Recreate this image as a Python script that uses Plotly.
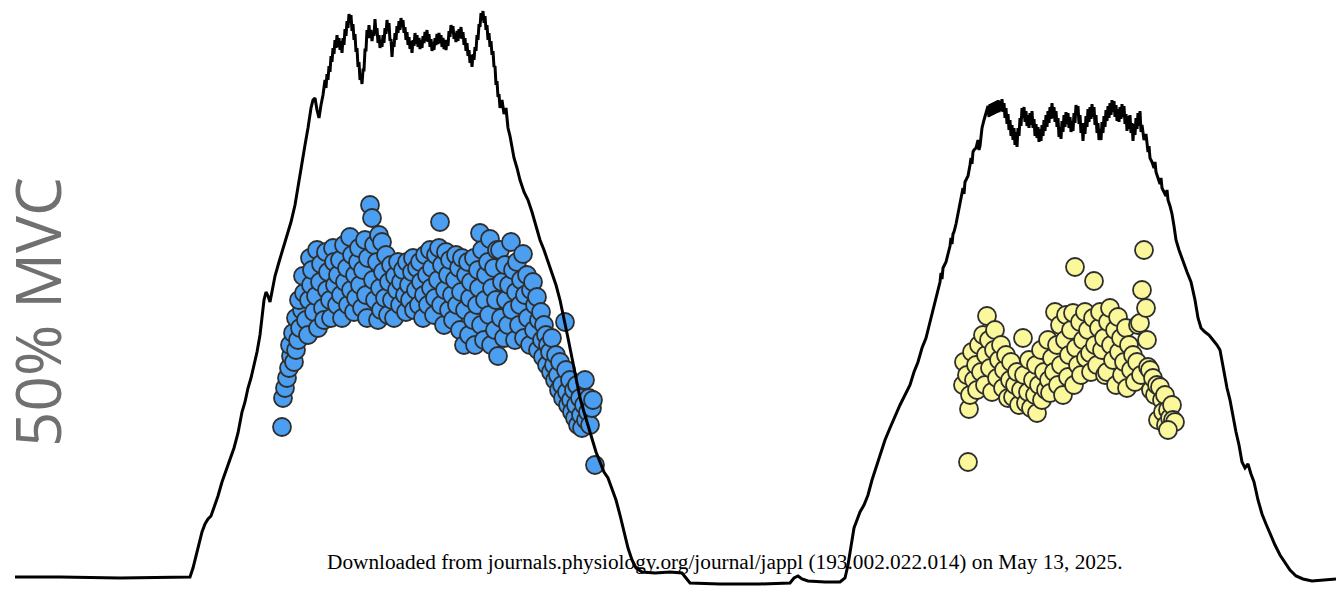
import plotly.graph_objects as go

# ---------------- Force trace (y axis drawn downward) ----------------
# first baseline and ramp-up: (time, force)
ramp1 = [(15, 577), (60, 577), (120, 578), (190, 577), (193, 568), (196, 555), (199, 544), (202, 532), (205, 524),
         (208, 519), (211, 516), (214, 508), (218, 496), (222, 482), (226, 470), (230, 460), (234, 448), (238, 433),
         (242, 412), (245, 402), (248, 388), (251, 378), (254, 365), (257, 352), (260, 335), (262, 318), (264, 300),
         (266, 292), (268, 296), (270, 302), (272, 290), (275, 276), (279, 262), (283, 248), (287, 236), (291, 222),
         (295, 205), (299, 180), (302, 160), (305, 145), (308, 128), (311, 108), (313, 100), (315, 98), (317, 110),
         (319, 118), (321, 105), (323, 95)]

# first plateau, sampled every time unit from t = 325
plateau1_start = 325
plateau1 = [80, 88, 74, 80, 66, 72, 56, 62, 48, 54,
            40, 48, 35, 47, 38, 50, 41, 53, 38, 45,
            29, 36, 21, 28, 14, 23, 15, 31, 24, 40,
            34, 52, 48, 67, 62, 80, 75, 84, 70, 70,
            50, 50, 30, 38, 25, 38, 30, 41, 32, 36,
            19, 34, 28, 43, 35, 48, 40, 47, 35, 43,
            28, 34, 20, 31, 23, 41, 39, 57, 42, 47,
            33, 40, 26, 33, 21, 30, 18, 27, 20, 33,
            27, 40, 32, 45, 37, 49, 41, 53, 40, 46,
            33, 44, 35, 47, 38, 49, 40, 48, 36, 43,
            32, 41, 30, 42, 34, 47, 39, 51, 42, 50,
            38, 45, 34, 44, 33, 43, 35, 47, 38, 49,
            40, 50, 40, 46, 31, 37, 25, 33, 26, 39,
            33, 42, 31, 41, 29, 38, 27, 39, 32, 45,
            38, 51, 43, 56, 50, 63, 55, 67, 54, 60,
            47, 51, 35, 40, 24, 27, 13, 20, 11, 23,
            16, 30, 25, 40, 33, 47, 41, 55, 51, 67,
            66, 85, 81, 97, 94, 108]

# ramp-down, rest, second ramp-up
ramp2 = [(502, 100), (504, 114), (506, 108), (508, 128), (510, 136), (512, 148), (514, 158), (517, 168), (520, 180),
         (524, 192), (528, 200), (532, 212), (536, 225), (540, 240), (544, 250), (548, 262), (552, 272), (556, 285),
         (560, 300), (564, 318), (568, 338), (572, 358), (576, 378), (580, 398), (584, 412), (588, 425), (592, 440),
         (596, 452), (600, 462), (604, 472), (608, 478), (612, 488), (616, 500), (620, 515), (624, 532), (628, 548),
         (632, 560), (636, 568), (642, 572), (655, 573), (670, 572), (682, 573), (686, 578), (690, 583), (720, 584),
         (760, 584), (790, 583), (794, 578), (798, 576), (802, 579), (808, 581), (825, 582), (840, 582), (845, 578),
         (848, 565), (851, 545), (854, 528), (857, 520), (860, 512), (864, 505), (868, 495), (872, 480), (876, 468),
         (880, 455), (885, 440), (890, 428), (895, 416), (900, 405), (905, 395), (910, 385), (914, 372), (918, 362),
         (922, 348), (926, 338), (928, 330), (930, 322), (932, 312), (934, 306), (936, 296), (938, 290), (940, 282),
         (941, 273), (942, 279), (943, 268), (944, 266), (946, 262), (948, 254), (950, 246), (951, 238), (952, 244),
         (953, 234), (954, 232), (956, 224), (958, 214), (960, 204), (962, 196), (963, 188), (964, 194), (965, 182),
         (966, 180), (968, 176), (970, 165), (971, 158), (972, 164), (973, 152), (974, 150), (976, 148), (978, 140),
         (979, 150), (980, 146), (981, 136), (982, 128), (984, 120), (986, 112)]

# second plateau, sampled every time unit from t = 988
plateau2_start = 988
plateau2 = [106, 117, 104, 116, 103, 115, 102, 114, 101, 113,
            100, 112, 101, 111, 99, 112, 103, 118, 108, 124,
            114, 130, 120, 136, 125, 140, 128, 145, 132, 147,
            128, 136, 118, 126, 108, 118, 107, 122, 111, 126,
            115, 128, 113, 125, 111, 128, 119, 136, 124, 138,
            127, 142, 129, 141, 125, 136, 120, 131, 115, 127,
            111, 123, 107, 119, 103, 118, 107, 122, 111, 127,
            118, 137, 127, 139, 121, 132, 115, 127, 112, 124,
            113, 128, 117, 132, 121, 131, 113, 123, 105, 115,
            106, 124, 115, 133, 123, 141, 123, 134, 116, 127,
            109, 122, 107, 119, 104, 117, 107, 125, 115, 133,
            123, 140, 129, 140, 122, 133, 116, 127, 110, 121,
            106, 118, 103, 115, 100, 112, 101, 117, 105, 121,
            109, 122, 107, 119, 104, 117, 106, 124, 114, 131,
            116, 129, 115, 133, 123, 141, 124, 135, 118, 129,
            113, 126, 111, 132, 125]

# final ramp-down and baseline
ramp3 = [(1144, 140), (1146, 134), (1148, 152), (1149, 146), (1150, 158), (1152, 162), (1154, 168), (1155, 162),
         (1156, 172), (1158, 178), (1160, 184), (1161, 178), (1162, 188), (1164, 192), (1166, 196), (1167, 190),
         (1168, 200), (1170, 206), (1172, 214), (1174, 226), (1176, 240), (1179, 250), (1183, 262), (1187, 272),
         (1191, 282), (1195, 300), (1198, 318), (1201, 328), (1205, 332), (1209, 335), (1213, 340), (1217, 345),
         (1220, 350), (1222, 362), (1224, 372), (1227, 388), (1230, 400), (1233, 418), (1236, 432), (1239, 445),
         (1242, 462), (1245, 468), (1248, 464), (1251, 474), (1254, 482), (1258, 500), (1262, 514), (1266, 524),
         (1270, 534), (1275, 545), (1280, 555), (1285, 563), (1290, 570), (1296, 576), (1303, 579), (1312, 581),
         (1322, 580), (1336, 579)]

# ---------------- Blue series (first contraction) ----------------
blue_t = [282, 283, 285, 287, 289, 291, 290, 294, 296, 293, 298, 296, 300, 302, 299, 304, 303, 306, 308, 309,
          311, 310, 312, 314, 316, 317, 318, 320, 321, 323, 324, 326, 327, 328, 330, 331, 333, 334, 335, 337,
          338, 340, 341, 342, 344, 345, 347, 348, 350, 351, 352, 354, 355, 356, 358, 359, 360, 362, 363, 365,
          366, 367, 368, 370, 372, 373, 374, 375, 377, 378, 379, 380, 381, 382, 383, 385, 386, 388, 389, 391,
          392, 394, 395, 397, 398, 400, 401, 403, 405, 406, 407, 409, 410, 412, 413, 414, 416, 417, 419, 420,
          421, 423, 424, 425, 427, 428, 430, 431, 432, 434, 435, 436, 438, 439, 440, 441, 442, 444, 445, 446,
          448, 449, 450, 452, 453, 455, 456, 457, 459, 460, 461, 462, 464, 465, 466, 468, 469, 470, 471, 473,
          474, 475, 477, 478, 479, 480, 481, 482, 484, 485, 486, 488, 489, 490, 491, 492, 494, 495, 496, 497,
          498, 500, 501, 502, 504, 505, 506, 508, 509, 511, 512, 513, 515, 516, 517, 519, 520, 521, 523, 524,
          525, 527, 528, 530, 531, 533, 534, 535, 537, 538, 539, 541, 542, 543, 544, 546, 547, 548, 550, 551,
          552, 554, 555, 556, 558, 559, 560, 562, 563, 565, 566, 567, 568, 570, 571, 572, 574, 575, 576, 577,
          578, 580, 581, 582, 584, 585, 586, 588, 589, 590, 592, 593, 595]
blue_v = [427, 398, 388, 378, 368, 356, 345, 362, 350, 333, 340, 318, 328, 310, 300, 293, 276, 320, 335, 300,
          285, 258, 270, 312, 296, 250, 328, 282, 264, 308, 320, 252, 290, 272, 300, 318, 248, 262, 285, 305,
          275, 260, 295, 318, 245, 282, 268, 305, 237, 290, 255, 312, 275, 298, 262, 248, 285, 308, 270, 240,
          295, 318, 258, 205, 218, 280, 245, 300, 262, 320, 235, 288, 310, 242, 272, 298, 255, 315, 282, 265,
          300, 318, 276, 290, 262, 305, 282, 270, 295, 312, 262, 285, 300, 272, 258, 310, 290, 268, 305, 262,
          282, 318, 295, 255, 275, 305, 250, 288, 268, 315, 298, 255, 280, 248, 222, 305, 265, 325, 290, 252,
          275, 310, 260, 295, 320, 280, 255, 305, 268, 330, 292, 258, 345, 310, 275, 262, 335, 298, 282, 320,
          258, 345, 305, 270, 288, 233, 325, 250, 340, 300, 275, 262, 315, 239, 345, 288, 268, 330, 300, 250,
          356, 250, 318, 282, 338, 265, 300, 325, 285, 242, 310, 270, 340, 292, 262, 325, 305, 280, 254, 338,
          295, 275, 318, 345, 290, 282, 330, 305, 297, 350, 320, 312, 340, 357, 325, 335, 365, 345, 352, 372,
          338, 365, 380, 355, 375, 390, 362, 385, 398, 322, 370, 392, 405, 380, 400, 412, 390, 418, 405, 385,
          425, 398, 415, 428, 405, 380, 420, 412, 398, 425, 408, 400, 465]

# ---------------- Yellow series (second contraction) ----------------
yellow_t = [968, 969, 963, 964, 967, 970, 972, 974, 976, 977, 979, 981, 983, 985, 987, 986, 989, 990, 992, 994,
            995, 997, 999, 1001, 1003, 1004, 1006, 1008, 1010, 1011, 1013, 1015, 1017, 1019, 1021, 1023, 1024, 1026, 1028, 1029,
            1031, 1033, 1035, 1036, 1037, 1039, 1041, 1042, 1044, 1046, 1048, 1049, 1050, 1052, 1054, 1055, 1057, 1058, 1060, 1061,
            1063, 1065, 1066, 1068, 1069, 1071, 1073, 1074, 1075, 1076, 1078, 1080, 1081, 1083, 1085, 1086, 1088, 1090, 1091, 1093,
            1094, 1095, 1097, 1099, 1100, 1102, 1104, 1105, 1107, 1108, 1110, 1111, 1113, 1115, 1116, 1118, 1119, 1121, 1122, 1124,
            1126, 1127, 1129, 1131, 1133, 1135, 1137, 1138, 1140, 1141, 1142, 1144, 1146, 1147, 1148, 1150, 1151, 1153, 1155, 1157,
            1158, 1160, 1162, 1163, 1165, 1166, 1168, 1170, 1172, 1173, 1175, 1168]
yellow_v = [462, 409, 385, 362, 375, 395, 352, 380, 365, 390, 345, 372, 335, 385, 316, 355, 340, 368, 392, 350,
            330, 378, 360, 345, 388, 370, 355, 398, 380, 362, 397, 385, 372, 405, 390, 338, 375, 403, 392, 360,
            408, 380, 395, 365, 413, 385, 350, 400, 372, 390, 340, 380, 393, 358, 372, 312, 345, 385, 325, 365,
            395, 340, 315, 377, 355, 330, 313, 385, 267, 348, 365, 322, 375, 340, 312, 358, 330, 353, 372, 318,
            281, 345, 365, 328, 312, 350, 338, 375, 372, 322, 308, 345, 360, 330, 385, 317, 352, 338, 375, 362,
            328, 388, 345, 370, 355, 382, 362, 325, 323, 375, 290, 250, 308, 340, 367, 370, 390, 378, 395, 385,
            420, 387, 400, 412, 395, 425, 410, 418, 405, 420, 422, 430]

axis_label = "50% MVC"
footer_text = "Downloaded from journals.physiology.org/journal/jappl (193.002.022.014) on May 13, 2025."

# assemble the force trace from its segments
force_t, force_v = [], []
for t, v in ramp1:
    force_t.append(t); force_v.append(v)
for i, v in enumerate(plateau1):
    force_t.append(plateau1_start + i); force_v.append(v)
for t, v in ramp2:
    force_t.append(t); force_v.append(v)
for i, v in enumerate(plateau2):
    force_t.append(plateau2_start + i); force_v.append(v)
for t, v in ramp3:
    force_t.append(t); force_v.append(v)

fig = go.Figure()

fig.add_trace(go.Scatter(
    x=blue_t, y=blue_v, mode="markers",
    marker=dict(size=18, color="#4b9ef0", line=dict(color="#2e2e2e", width=1.8)),
    hoverinfo="skip", showlegend=False,
))
fig.add_trace(go.Scatter(
    x=yellow_t, y=yellow_v, mode="markers",
    marker=dict(size=18, color="#fbf89b", line=dict(color="#2e2e2e", width=1.8)),
    hoverinfo="skip", showlegend=False,
))
fig.add_trace(go.Scatter(
    x=force_t, y=force_v, mode="lines",
    line=dict(color="#000000", width=3),
    hoverinfo="skip", showlegend=False,
))

fig.add_annotation(
    x=37, y=312, xref="x", yref="y", text=axis_label, textangle=-90,
    showarrow=False, font=dict(family="Open Sans", size=62, color="#707070"),
)
fig.add_annotation(
    x=725, y=562, xref="x", yref="y", text=footer_text,
    showarrow=False, font=dict(family="Liberation Serif", size=21.3, color="#000000"),
)

fig.update_layout(
    width=1336, height=593,
    margin=dict(l=0, r=0, t=0, b=0),
    paper_bgcolor="white", plot_bgcolor="white",
    xaxis=dict(range=[0, 1336], visible=False, fixedrange=True),
    yaxis=dict(range=[593, 0], visible=False, fixedrange=True),
)

fig.write_html("out.html")
